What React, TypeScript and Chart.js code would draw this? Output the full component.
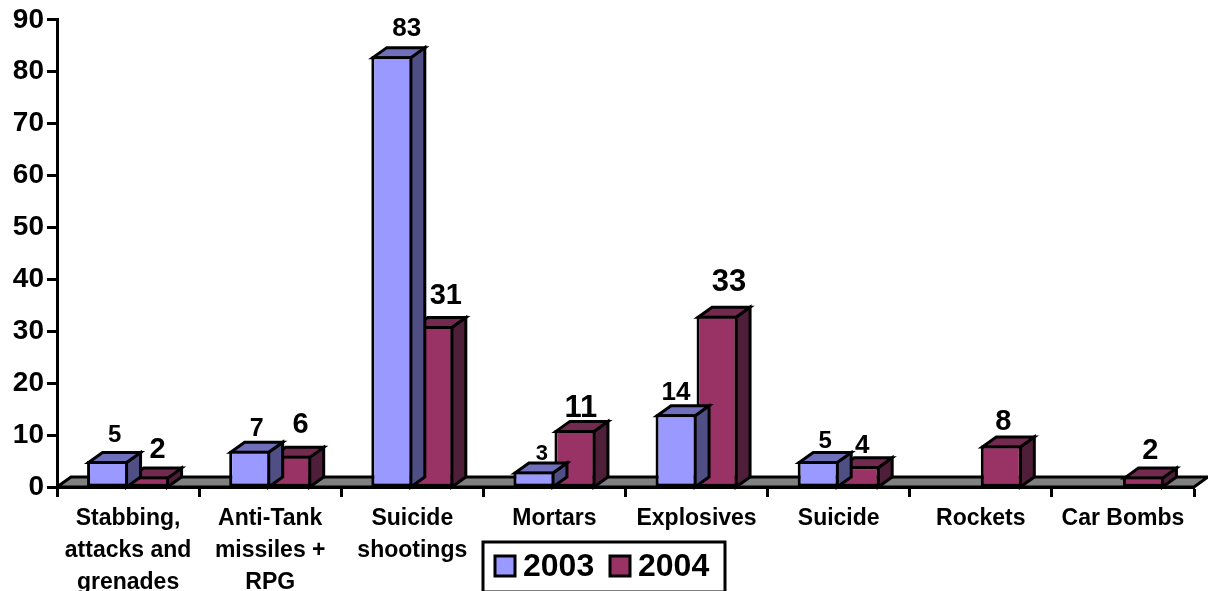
import React, { useEffect, useRef } from "react";
import { Chart, registerables } from "chart.js";

Chart.register(...registerables);

const categories = [
  ["Stabbing,", "attacks and", "grenades"],
  ["Anti-Tank", "missiles +", "RPG"],
  ["Suicide", "shootings"],
  ["Mortars"],
  ["Explosives"],
  ["Suicide"],
  ["Rockets"],
  ["Car Bombs"],
];
const values2003 = [5, 7, 83, 3, 14, 5, null, null];
const values2004 = [2, 6, 31, 11, 33, 4, 8, 2];

// Per-label typography and nudges, as in the reference's hand-placed labels.
const labelSize2003 = [24, 25, 26, 22, 26, 24, 0, 0];
const labelSize2004 = [29, 29, 29, 31, 31, 26, 29, 29];
const labelDx2003 = [7, 7, 15, 8, 0, 7, 0, 0];
const labelDx2004 = [9, 10, 13, 6, 12, 3, 2, 7];
const labelDy2003 = [26, 22, 27, 17, 21, 20, 0, 0];
const labelDy2004 = [27, 31, 30, 21, 33, 20, 23, 26];

const FONT = '"Liberation Sans", Arial, sans-serif';
const DEPTH_X = 14;
const DEPTH_Y = 10;
const faces = [
  { top: "#6f6fbb", side: "#4f4f86" },
  { top: "#722a4e", side: "#4f1f3a" },
];

function poly(ctx: CanvasRenderingContext2D, pts: number[][], fill: string, lw = 3) {
  ctx.beginPath();
  pts.forEach(([x, y], i) => (i ? ctx.lineTo(x, y) : ctx.moveTo(x, y)));
  ctx.closePath();
  ctx.fillStyle = fill;
  ctx.fill();
  ctx.lineWidth = lw;
  ctx.strokeStyle = "#000";
  ctx.lineJoin = "miter";
  ctx.stroke();
}

const bar3d = {
  id: "bar3d",
  beforeDatasetsDraw(chart: any) {
    const { ctx, chartArea: a } = chart;
    const y0 = chart.scales.y.getPixelForValue(0);
    ctx.save();
    poly(
      ctx,
      [
        [a.left, y0],
        [a.left + DEPTH_X, y0 - DEPTH_Y],
        [a.right + DEPTH_X, y0 - DEPTH_Y],
        [a.right, y0],
      ],
      "#808080"
    );
    ctx.restore();
  },
  beforeDatasetDraw(chart: any, args: any) {
    const { ctx } = chart;
    const meta = chart.getDatasetMeta(args.index);
    const c = faces[args.index];
    const base = chart.scales.y.getPixelForValue(0);
    ctx.save();
    meta.data.forEach((el: any, i: number) => {
      const v = chart.data.datasets[args.index].data[i];
      if (v === null) return;
      const l = el.x - el.width / 2 + 1.5;
      const r = el.x + el.width / 2 - 1.5;
      const t = el.y + 1.5;
      poly(ctx, [[r, t], [r + DEPTH_X, t - DEPTH_Y], [r + DEPTH_X, base - DEPTH_Y], [r, base]], c.side);
      poly(ctx, [[l, t], [l + DEPTH_X, t - DEPTH_Y], [r + DEPTH_X, t - DEPTH_Y], [r, t]], c.top);
    });
    ctx.restore();
  },
  afterDatasetsDraw(chart: any) {
    const { ctx } = chart;
    ctx.save();
    ctx.fillStyle = "#000";
    ctx.textAlign = "center";
    ctx.textBaseline = "middle";
    const sizes = [labelSize2003, labelSize2004];
    const dxs = [labelDx2003, labelDx2004];
    const dys = [labelDy2003, labelDy2004];
    chart.data.datasets.forEach((ds: any, d: number) => {
      chart.getDatasetMeta(d).data.forEach((el: any, i: number) => {
        if (ds.data[i] === null) return;
        ctx.font = `bold ${sizes[d][i]}px ${FONT}`;
        ctx.fillText(String(ds.data[i]), el.x + dxs[d][i], el.y - dys[d][i]);
      });
    });

    // legend
    const bx = 483, by = 542, bw = 242, bh = 50;
    ctx.fillStyle = "#fff";
    ctx.fillRect(bx, by, bw, bh);
    ctx.lineWidth = 3;
    ctx.strokeStyle = "#000";
    ctx.strokeRect(bx, by, bw, bh);
    ctx.font = `bold 32px ${FONT}`;
    ctx.textAlign = "left";
    const xs = [495, 610];
    chart.data.datasets.forEach((ds: any, d: number) => {
      ctx.fillStyle = ds.backgroundColor;
      ctx.fillRect(xs[d], 556, 20, 20);
      ctx.strokeRect(xs[d], 556, 20, 20);
      ctx.fillStyle = "#000";
      ctx.fillText(ds.label, xs[d] + 28, 567);
    });
    ctx.restore();
  },
};

export default function App() {
  const ref = useRef<HTMLCanvasElement>(null);
  useEffect(() => {
    document.body.style.margin = "0";
    const chart = new Chart(ref.current!, {
      type: "bar",
      data: {
        labels: categories,
        datasets: [
          { label: "2003", data: values2003, backgroundColor: "#9999ff", borderColor: "#000", borderWidth: 3, borderSkipped: false, clip: false },
          { label: "2004", data: values2004, backgroundColor: "#993366", borderColor: "#000", borderWidth: 3, borderSkipped: false, clip: false },
        ] as any,
      },
      options: {
        responsive: false,
        animation: false,
        layout: { padding: { top: 19, right: 14, left: 0, bottom: 0 } },
        plugins: { legend: { display: false }, tooltip: { enabled: false } },
        datasets: { bar: { barPercentage: 1, categoryPercentage: 0.577 } },
        scales: {
          x: {
            afterFit: (s: any) => { s.height = 104; },
            grid: { drawOnChartArea: false, drawTicks: true, tickLength: 10, tickWidth: 3, tickColor: "#000" },
            border: { color: "#000", width: 3 },
            ticks: {
              autoSkip: false,
              maxRotation: 0,
              minRotation: 0,
              color: "#000",
              padding: 6,
              font: { family: FONT, size: 23, weight: "bold", lineHeight: 1.38 },
            },
          },
          y: {
            min: 0,
            max: 90,
            afterFit: (s: any) => { s.width = 57; },
            grid: { drawOnChartArea: false, drawTicks: true, tickLength: 10, tickWidth: 3, tickColor: "#000" },
            border: { color: "#000", width: 3 },
            ticks: {
              stepSize: 10,
              color: "#000",
              padding: 3,
              font: { family: FONT, size: 28, weight: "bold" },
            },
          },
        },
      },
      plugins: [bar3d],
    } as any);
    return () => chart.destroy();
  }, []);
  return <canvas ref={ref} width={1208} height={591} style={{ display: "block" }} />;
}
